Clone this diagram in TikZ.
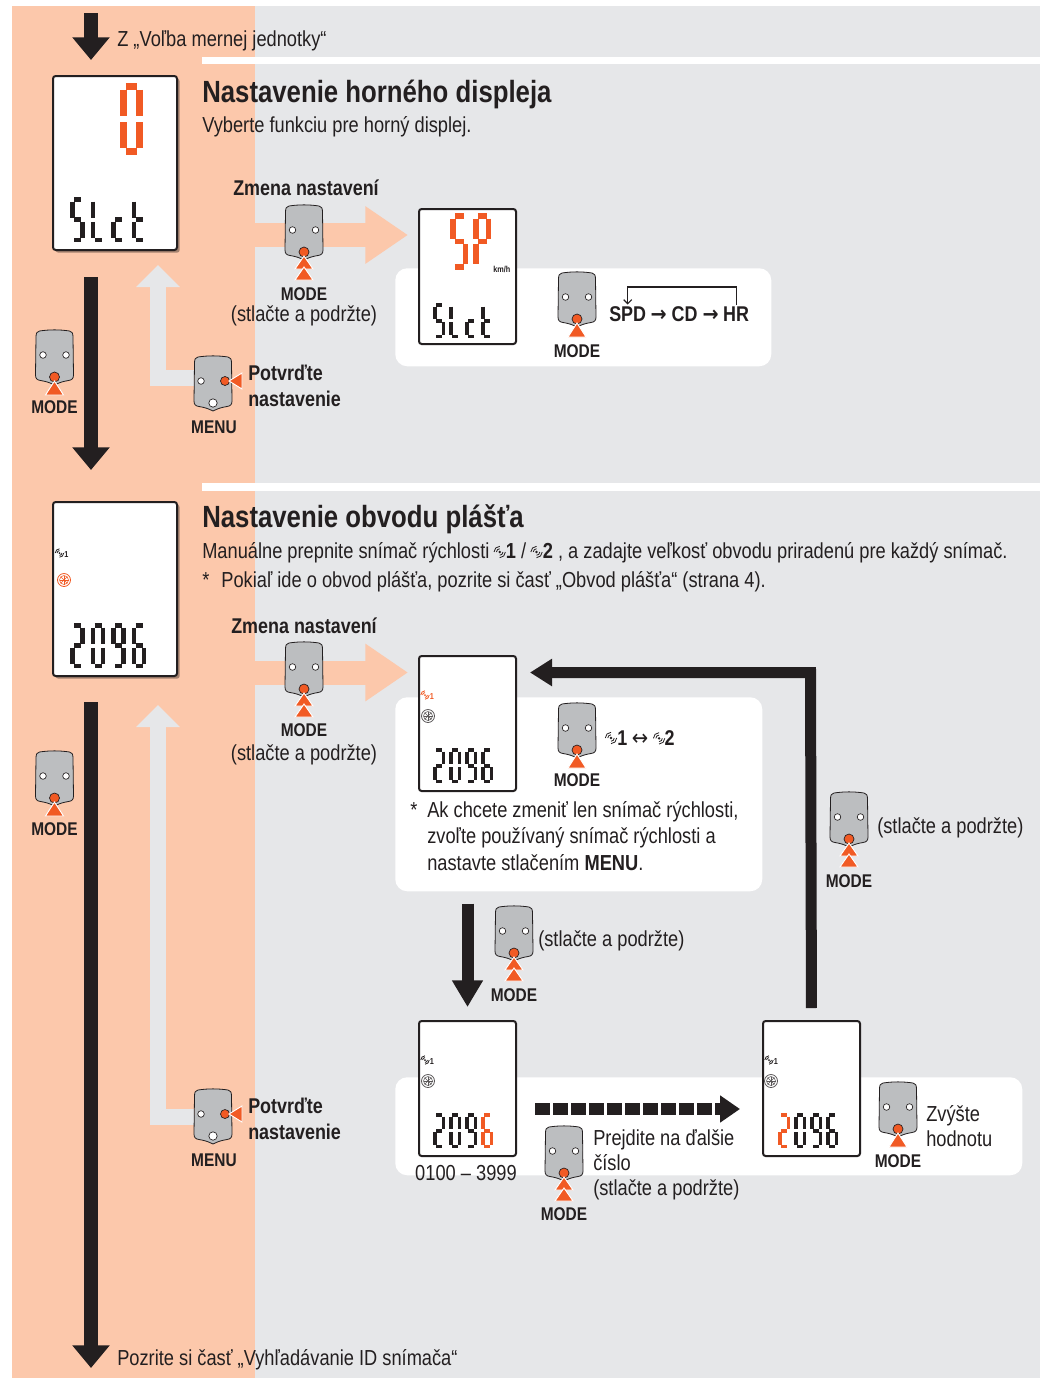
\documentclass[tikz,border=0pt]{standalone}
\usepackage{fontspec}
\setmainfont{Liberation Sans}[FakeStretch=0.84]
\newfontfamily\arrowfont{DejaVu Sans}[FakeStretch=0.9]
\usetikzlibrary{positioning,arrows.meta,shadows}

\definecolor{panelgray}{RGB}{230,231,233}
\definecolor{salmon}{RGB}{252,200,171}
\definecolor{lcdred}{RGB}{241,90,36}
\definecolor{btngray}{RGB}{188,190,192}
\definecolor{ink}{RGB}{35,31,32}

% segments of one lcd digit, cell 1 x 2
\expandafter\def\csname lcd-a\endcsname{(0.15,0) -- (0.85,0)}
\expandafter\def\csname lcd-b\endcsname{(1,0.1) -- (1,0.9)}
\expandafter\def\csname lcd-c\endcsname{(1,1.1) -- (1,1.9)}
\expandafter\def\csname lcd-d\endcsname{(0.15,2) -- (0.85,2)}
\expandafter\def\csname lcd-e\endcsname{(0,1.1) -- (0,1.9)}
\expandafter\def\csname lcd-f\endcsname{(0,0.1) -- (0,0.9)}
\expandafter\def\csname lcd-g\endcsname{(0.15,1) -- (0.85,1)}

% x, y, width, height, pitch, line width, colour, digits
\newcommand\lcdnum[8]{%
  \foreach \dg [count=\k from 0] in {#8} {%
    \begin{scope}[shift={(#1+\k*#5,#2)},xscale=#3,yscale=#4/2]
      \foreach \s in \dg {\draw[line width=#6,draw=#7] \csname lcd-\s\endcsname;}
    \end{scope}}}

\newcommand\btnshape{%
  \filldraw[fill=btngray, draw=ink, line width=0.6pt] (-15,-27) .. controls (-5,-28.5) and (5,-28.5) .. (15,-27)
    .. controls (17.5,-26.5) and (18.5,-25) .. (18.5,-21) -- (19,17)
    .. controls (19,20.5) and (17.5,22) .. (14,22.5) .. controls (8,23.5) and (5,24.5) .. (0,27)
    .. controls (-5,24.5) and (-8,23.5) .. (-14,22.5) .. controls (-17.5,22) and (-19,20.5) .. (-19,17)
    -- (-18.5,-21) .. controls (-18.5,-25) and (-17.5,-26.5) .. (-15,-27) -- cycle;}

\tikzset{
    txt/.style={font=\fontsize{16.3}{19}\selectfont, text=ink, inner sep=0pt, anchor=base west},
    ctxt/.style={txt, anchor=base},
    head/.style={font=\bfseries\fontsize{23}{27}\selectfont, text=ink, inner sep=0pt, anchor=base west},
    lbl/.style={font=\bfseries\fontsize{16}{19}\selectfont, text=ink, inner sep=0pt, anchor=base west},
    key/.style={font=\bfseries\fontsize{13.8}{16}\selectfont, text=ink, inner sep=0pt, anchor=base},
    tiny/.style={font=\bfseries\fontsize{6.5}{7}\selectfont, inner sep=0pt, anchor=base west},
    whitebox/.style={fill=white, rounded corners=9pt, inner sep=0pt, anchor=north west},
    display/.style={draw=ink, fill=white, line width=1.5pt, rounded corners=2pt, inner sep=0pt, anchor=north west},
    bigdisp/.style={display, minimum width=93pt, minimum height=130.5pt,
        drop shadow={shadow xshift=2pt, shadow yshift=-2pt, fill=black, opacity=0.35}},
    smalldisp/.style={display, minimum width=72.75pt, minimum height=101.25pt},
    downarrow/.style={draw=ink, line width=10.5pt, -{Triangle[width=27pt,length=17pt]}},
    midarrow/.style={draw=ink, line width=9pt, -{Triangle[width=22pt,length=20pt]}},
    looparrow/.style={draw=ink, line width=8.25pt, line join=miter, -{Triangle[width=19.5pt,length=16.5pt]}},
    nextarrow/.style={draw=ink, line width=9pt, dash pattern=on 11.6pt off 1.9pt, -{Triangle[width=19.5pt,length=15pt]}},
    setarrow/.style={draw=salmon, line width=18pt, -{Triangle[width=41pt,length=32pt]}},
    backarrow/.style={draw=panelgray, line width=12pt, line join=miter, -{Triangle[width=32pt,length=16.5pt]}},
    hole/.style={fill=white, draw=ink, line width=0.5pt},
    reddot/.style={fill=lcdred, draw=ink, line width=0.5pt},
    redtip/.style={fill=lcdred, draw=white, line width=0.7pt},
    pushbtn/.pic={
        \btnshape
        \filldraw[hole] (-11.5,-3) circle (3.3) (11.5,-3) circle (3.3);
        \filldraw[reddot] (0,19) circle (5);
        \filldraw[redtip] (0,23) -- (9,37) -- (-9,37) -- cycle;
    },
    holdbtn/.pic={
        \btnshape
        \filldraw[hole] (-11.5,-3) circle (3.3) (11.5,-3) circle (3.3);
        \filldraw[reddot] (0,19) circle (5);
        \filldraw[redtip] (0,23) -- (9,36) -- (-9,36) -- cycle;
        \filldraw[redtip] (0,34) -- (9,47) -- (-9,47) -- cycle;
    },
    menubtn/.pic={
        \btnshape
        \filldraw[hole] (-12,-3) circle (3.3) (0,19) circle (4.2);
        \filldraw[reddot] (12,-3) circle (4.5);
        \filldraw[redtip] (16,-3) -- (29,-11) -- (29,5) -- cycle;
    },
    wheel/.pic={
        \filldraw[draw=#1, fill=white, line width=0.6pt] (0,0) circle (6.5);
        \draw[#1, line width=0.4pt] (0,0) circle (4.5);
        \foreach \a in {0,45,90,135}
            \draw[#1, line width=0.4pt] (\a:4.5) -- (\a+180:4.5);
    },
    sensor/.pic={
        \fill[#1] (0,0) circle (1);
        \foreach \r in {2.4,4.2} {
            \draw[#1, line width=0.6pt] (180:\r) arc (180:270:\r);
            \draw[#1, line width=0.6pt] (0:\r) arc (0:90:\r);
        }
    }
}

\begin{document}
\begin{tikzpicture}[x=0.75pt,y=-0.75pt]
\useasboundingbox (0,0) rectangle (1040,1378);
% panels
\fill[panelgray] (12,6) rectangle (1040,1378);
\fill[salmon] (12,6) rectangle (255,1378);
\fill[white] (202,57) rectangle (1040,64);
\fill[white] (202,483) rectangle (1040,491);

% button places
\coordinate (holdA) at (304,233);
\coordinate (menuA) at (213,384);
\coordinate (pushA) at (54.5,358);
\coordinate (cycleA) at (577,300);
\coordinate (holdB) at (304,670);
\coordinate (menuB) at (213,1117);
\coordinate (pushB) at (54.5,779);
\coordinate (cycleB) at (577,731);
\coordinate (holdR) at (849,820);
\coordinate (holdM) at (514,934);
\coordinate (holdN) at (564,1154);
\coordinate (pushR) at (898,1110);

% boxes and displays
\node[whitebox, minimum width=282pt, minimum height=73.5pt] (boxA) at (395,268) {};
\node[whitebox, minimum width=275.25pt, minimum height=145.5pt] (boxB) at (395,697) {};
\node[whitebox, minimum width=470.25pt, minimum height=73.5pt] (boxC) at (395,1077) {};

\coordinate (setA) at (255,235);
\coordinate (setB) at (255,672.5);
\coordinate (backcol) at (158,0);

\node[bigdisp] (slct) at (52,75) {};
\node[bigdisp] (tire) at (52,501) {};
\node[smalldisp] (spd) at (418,208) {};
\node[smalldisp] (sens) at (418,655) {};
\node[smalldisp] (digit) at (418,1020) {};
\node[smalldisp] (incr) at (762,1020) {};

\draw[setarrow, shorten >=7.5pt] (setA) -- (setA -| spd.west);
\draw[setarrow, shorten >=7.5pt] (setB) -- (setB -| sens.west);
\draw[backarrow, shorten >=10.5pt] ([xshift=-14pt,yshift=4.5pt]menuA) -| (slct.south -| backcol);
\draw[backarrow, shorten >=21pt] ([xshift=-14pt]menuB) -| (tire.south -| backcol);

% black arrows
\coordinate (entry) at (91,13);
\coordinate (flow) at (91,0);
\coordinate (exit) at (91,1368);
\coordinate (loopcorner) at (810.5,672.5);
\coordinate (nextstart) at (535,1109);
\draw[downarrow, shorten >=11.25pt] (entry) -- (slct.north -| flow);
\draw[downarrow, shorten <=19.5pt, shorten >=23.25pt] (slct.south -| flow) -- (tire.north -| flow);
\draw[downarrow, shorten <=18.75pt] (tire.south -| flow) -- (exit);
\draw[midarrow, shorten <=9pt, shorten >=9.75pt] (boxB.south -| digit.north) -- (digit.north);
\draw[looparrow, shorten <=9pt, shorten >=9.75pt] (incr.north) -- (loopcorner) -- (loopcorner -| sens.east);
\draw[nextarrow, shorten >=16.5pt] (nextstart) -- (nextstart -| incr.west);

% lcd digits
\lcdnum{123.5}{86.5}{16}{65}{0}{5.2pt}{lcdred}{{a,b,c,d,e,f}}
\lcdnum{72.5}{199.5}{10}{40.5}{20.5}{3.6pt}{ink}{{a,f,g,c,d},{f,e,d},{g,e,d},{f,e,d,g}}
\lcdnum{453}{216}{12.5}{51}{23}{4.3pt}{lcdred}{{a,f,g,c,d},{a,b,f,g,e}}
\lcdnum{435}{305}{8.5}{31.5}{16}{2.8pt}{ink}{{a,f,g,c,d},{f,e,d},{g,e,d},{f,e,d,g}}
\lcdnum{72.5}{625.5}{10}{40.5}{20.5}{3.6pt}{ink}{{a,b,g,e,d},{a,b,c,d,e,f},{a,b,c,d,f,g},{a,f,g,e,d,c}}
\lcdnum{435}{750}{8.5}{31.5}{16}{2.8pt}{ink}{{a,b,g,e,d},{a,b,c,d,e,f},{a,b,c,d,f,g},{a,f,g,e,d,c}}
\lcdnum{435}{1115}{8.5}{31.5}{16}{2.8pt}{ink}{{a,b,g,e,d},{a,b,c,d,e,f},{a,b,c,d,f,g}}
\lcdnum{483}{1115}{8.5}{31.5}{16}{2.8pt}{lcdred}{{a,f,g,e,d,c}}
\lcdnum{780}{1115}{8.5}{31.5}{16}{2.8pt}{lcdred}{{a,b,g,e,d}}
\lcdnum{796}{1115}{8.5}{31.5}{16}{2.8pt}{ink}{{a,b,c,d,e,f},{a,b,c,d,f,g},{a,f,g,e,d,c}}
\node[tiny, text=ink] at (493,272) {km/h};

% display icons
\pic at (59.5,553) {sensor=ink};
\node[tiny, text=ink] at (64,557.5) {1};
\pic at (64,580) {wheel=lcdred};
\pic at (425,695) {sensor=lcdred};
\node[tiny, text=lcdred] at (429.5,699.5) {1};
\pic at (428,716) {wheel=ink!75};
\pic at (425,1060) {sensor=ink};
\node[tiny, text=ink] at (429.5,1064.5) {1};
\pic at (428,1081) {wheel=ink!75};
\pic at (769,1060) {sensor=ink};
\node[tiny, text=ink] at (773.5,1064.5) {1};
\pic at (771,1081) {wheel=ink!75};

% buttons
\pic at (holdA) {holdbtn};
\pic at (menuA) {menubtn};
\pic at (pushA) {pushbtn};
\pic at (cycleA) {pushbtn};
\pic at (holdB) {holdbtn};
\pic at (menuB) {menubtn};
\pic at (pushB) {pushbtn};
\pic at (cycleB) {pushbtn};
\pic at (holdR) {holdbtn};
\pic at (holdM) {holdbtn};
\pic at (holdN) {holdbtn};
\pic at (pushR) {pushbtn};

% texts, first part
\node[txt] (fromunit) at (117,46) {Z „Voľba mernej jednotky“};
\node[head] (headA) at (202,102) {Nastavenie horného displeja};
\node[txt] (subA) at (202,132) {Vyberte funkciu pre horný displej.};
\node[lbl, anchor=base] (changeA) at (306,195) {Zmena nastavení};
\node[key] at (304,300) {MODE};
\node[ctxt] at (304,321) {(stlačte a podržte)};
\node[lbl] at (248,380) {Potvrďte};
\node[lbl] at (248,406) {nastavenie};
\node[key] at (214,433) {MENU};
\node[key] at (54.5,413) {MODE};
\node[key] at (577,357) {MODE};
\node[lbl] (spdN) at (609,321) {SPD};
\node[lbl] (cdN) at ([xshift=3pt]spdN.base east) {{\arrowfont\bfseries→} CD {\arrowfont\bfseries→}};
\node[lbl] (hrN) at ([xshift=3pt]cdN.base east) {HR};
\coordinate (bracket) at (0,287);
\draw[ink, line width=0.9pt, -{Straight Barb[length=3pt,width=6pt]}] ([yshift=1pt]hrN.north) |- (spdN.north |- bracket) -- ([yshift=1pt]spdN.north);

% texts, second part
\node[head] (headB) at (202,527) {Nastavenie obvodu plášťa};
\node[txt] (manA) at (202,558) {Manuálne prepnite snímač rýchlosti};
\pic[scale=1.35] at ([xshift=7.5pt,yshift=4.5pt]manA.base east) {sensor=ink};
\node[txt] (manB) at ([xshift=12pt]manA.base east) {\textbf{1} /};
\pic[scale=1.35] at ([xshift=7.5pt,yshift=4.5pt]manB.base east) {sensor=ink};
\node[txt] (manC) at ([xshift=12pt]manB.base east) {\textbf{2} , a zadajte veľkosť obvodu priradenú pre každý snímač.};
\node[txt] (seeA) at (202,587) {*\hspace{9pt}Pokiaľ ide o obvod plášťa, pozrite si časť „Obvod plášťa“ (strana 4).};
\node[lbl, anchor=base] (changeB) at (304,633) {Zmena nastavení};
\node[key] at (304,736) {MODE};
\node[ctxt] at (304,760) {(stlačte a podržte)};
\node[key] at (54.5,835) {MODE};
\node[key] at (577,786) {MODE};
\pic[scale=1.35] at (611,738) {sensor=ink};
\node[lbl] (one) at (617,745) {1};
\node[txt] (swap) at ([xshift=3pt]one.base east) {\arrowfont↔};
\pic[scale=1.35] at ([xshift=8pt,yshift=5pt]swap.base east) {sensor=ink};
\node[lbl] (two) at ([xshift=12pt]swap.base east) {2};
\node[txt] at (410,817) {*};
\node[txt] at (427,817) {Ak chcete zmeniť len snímač rýchlosti,};
\node[txt] at (427,843) {zvoľte používaný snímač rýchlosti a};
\node[txt] at (427,870) {nastavte stlačením \textbf{MENU}.};
\node[txt] at (877,833) {(stlačte a podržte)};
\node[key] at (849,887) {MODE};
\node[txt] at (538,946) {(stlačte a podržte)};
\node[key] at (514,1001) {MODE};
\node[lbl] at (248,1113) {Potvrďte};
\node[lbl] at (248,1139) {nastavenie};
\node[key] at (214,1166) {MENU};
\node[ctxt] at (466,1180) {0100 – 3999};
\node[txt] at (593,1145) {Prejdite na ďalšie};
\node[txt] at (593,1170) {číslo};
\node[txt] at (593,1195) {(stlačte a podržte)};
\node[key] at (564,1220) {MODE};
\node[txt] at (926,1121) {Zvýšte};
\node[txt] at (926,1146) {hodnotu};
\node[key] at (898,1167) {MODE};
\node[txt] (toid) at (117,1365) {Pozrite si časť „Vyhľadávanie ID snímača“};
\end{tikzpicture}
\end{document}
